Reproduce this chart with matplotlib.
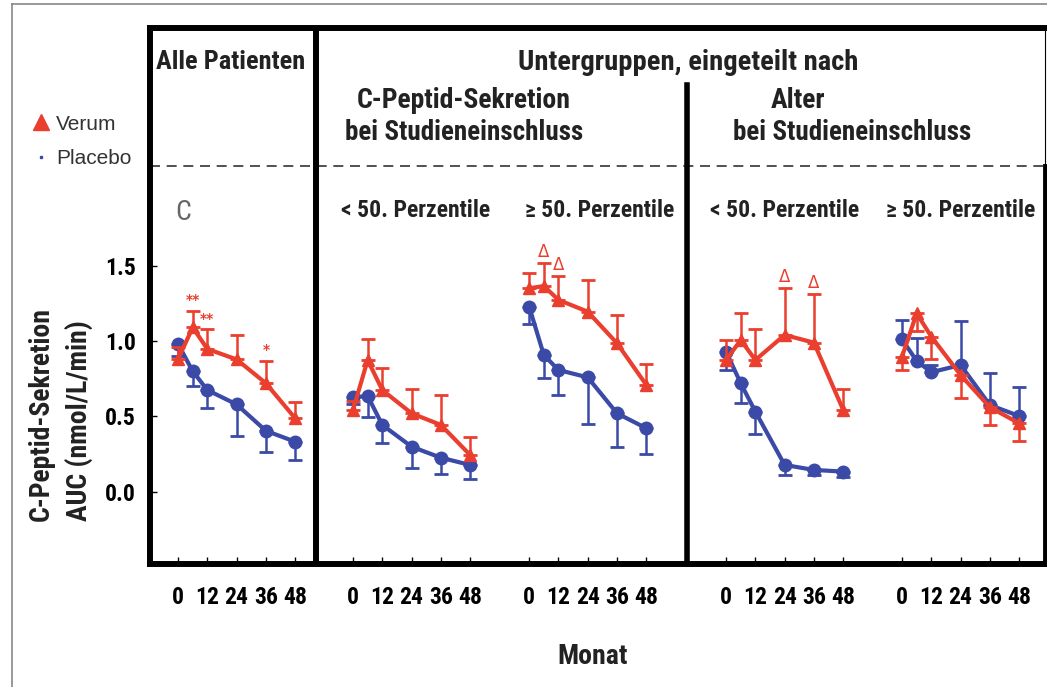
import os
import matplotlib
matplotlib.use("Agg")
import matplotlib.pyplot as plt
import numpy as np
from matplotlib.lines import Line2D
from matplotlib import font_manager as fm

# months at which C-peptide AUC was measured
months = [0, 6, 12, 24, 36, 48]
tick_months = [0, 12, 24, 36, 48]

# x offset (in months) of each sub-panel on the shared axis
panel_offsets = [0, 71.7, 143.9, 224.6, 296.7]
panel_titles = ["< 50. Perzentile", "≥ 50. Perzentile", "< 50. Perzentile", "≥ 50. Perzentile"]

# placebo (blue) means and error bars, one row per panel
placebo_mean = [
    [0.98, 0.80, 0.675, 0.58, 0.405, 0.333],
    [0.627, 0.636, 0.444, 0.30, 0.227, 0.179],
    [1.227, 0.907, 0.808, 0.759, 0.521, 0.422],
    [0.929, 0.72, 0.532, 0.179, 0.146, 0.135],
    [1.011, 0.868, 0.793, 0.841, 0.576, 0.503],
]
placebo_err_lo = [
    [0.08, 0.10, 0.12, 0.21, 0.14, 0.12],
    [0.045, 0.14, 0.12, 0.14, 0.11, 0.09],
    [0.115, 0.15, 0.165, 0.31, 0.22, 0.17],
    [0.12, 0.13, 0.15, 0.066, 0.035, 0.035],
    [0, 0, 0, 0, 0, 0],
]
placebo_err_hi = [
    [0, 0, 0, 0, 0, 0],
    [0, 0, 0, 0, 0, 0],
    [0, 0, 0, 0, 0, 0],
    [0, 0, 0, 0, 0, 0],
    [0.13, 0.15, 0.05, 0.29, 0.21, 0.19],
]

# verum (red) means and error bars
verum_mean = [
    [0.88, 1.09, 0.947, 0.878, 0.72, 0.488],
    [0.543, 0.874, 0.675, 0.521, 0.444, 0.245],
    [1.349, 1.364, 1.272, 1.194, 0.985, 0.709],
    [0.874, 1.007, 0.874, 1.04, 0.989, 0.543],
    [0.896, 1.183, 1.029, 0.775, 0.561, 0.455],
]
verum_err_lo = [
    [0, 0, 0, 0, 0, 0],
    [0, 0, 0, 0, 0, 0],
    [0, 0, 0, 0, 0, 0],
    [0, 0, 0, 0, 0, 0],
    [0.09, 0.115, 0.145, 0.15, 0.12, 0.12],
]
verum_err_hi = [
    [0.08, 0.11, 0.13, 0.16, 0.15, 0.11],
    [0.06, 0.14, 0.145, 0.16, 0.20, 0.12],
    [0.10, 0.15, 0.16, 0.21, 0.19, 0.14],
    [0.13, 0.18, 0.205, 0.31, 0.32, 0.14],
    [0, 0, 0, 0, 0, 0],
]

# significance markers: (panel, month index, symbol)
sig_marks = [(0, 1, "**"), (0, 2, "**"), (0, 4, "*"),
             (2, 1, "Δ"), (2, 2, "Δ"), (3, 3, "Δ"), (3, 4, "Δ")]

RED = "#EA3F2E"
BLUE = "#3A4AA6"
W, H = 1047, 687


def narrow_font(bold):
    """Look for an installed condensed/narrow sans font file."""
    prefs = ["liberation sans narrow", "arial narrow", "roboto condensed",
             "open sans condensed", "dejavu sans condensed", "noto sans condensed"]
    found = []
    for f in fm.fontManager.ttflist:
        key = (f.name + " " + os.path.basename(f.fname)).lower()
        if not ("narrow" in key or "condensed" in key or "cond" in os.path.basename(f.fname).lower()):
            continue
        if f.style != "normal" or "italic" in key or "oblique" in key:
            continue
        w = f.weight if isinstance(f.weight, int) else (700 if f.weight == "bold" else 400)
        if bold and w < 600:
            continue
        if not bold and (w >= 600 or w < 350):
            continue
        rank = next((i for i, p in enumerate(prefs) if p in key), len(prefs))
        found.append((rank, abs(w - (700 if bold else 400)), f.fname))
    if found:
        found.sort()
        return fm.FontProperties(fname=found[0][2]), 1.0
    return fm.FontProperties(family="Liberation Sans",
                             weight="bold" if bold else "normal"), 0.82


FB, SB = narrow_font(True)
FR, SR = narrow_font(False)

fig = plt.figure(figsize=(W / 100, H / 100), dpi=100)


def px(x, y):
    return x / W, 1 - y / H


def btext(x, y, s, size, **kw):
    fp = FB.copy()
    fp.set_size(size * SB)
    return fig.text(*px(x, y), s, fontproperties=fp, color="#222222",
                    ha="center", va="center", **kw)


# main axes: left spine at x=150px, right 1045px, top 28px, bottom 564px
l, b = px(150, 564)
r, t = px(1045, 28)
ax = fig.add_axes([l, b, r - l, t - b])
ax.set_xlim(-11.5, 355.3)
ax.set_ylim(-0.477, 3.073)

for p, off in enumerate(panel_offsets):
    x = np.array(months) + off
    ax.errorbar(x, placebo_mean[p], yerr=[placebo_err_lo[p], placebo_err_hi[p]],
                color=BLUE, lw=3, marker="o", ms=9, elinewidth=1.8,
                capsize=5, capthick=2, zorder=3)
    ax.errorbar(x, verum_mean[p], yerr=[verum_err_lo[p], verum_err_hi[p]],
                color=RED, lw=3, marker="^", ms=9, elinewidth=1.8,
                capsize=5, capthick=2, zorder=4)

for p, i, sym in sig_marks:
    xm = months[i] + panel_offsets[p]
    ym = verum_mean[p][i] + verum_err_hi[p][i] + 0.015
    if sym == "Δ":
        ax.text(xm, ym, sym, color=RED, ha="center", va="bottom", fontsize=12)
    else:
        ax.text(xm, ym + 0.01, sym, color=RED, ha="center", va="bottom",
                fontsize=10, fontweight="bold")

# frame
for s in ["left", "top", "bottom"]:
    ax.spines[s].set_linewidth(4.3)
ax.spines["right"].set_visible(False)
dash_y = 2.159
dash_frac = (dash_y + 0.477) / (3.073 + 0.477)
ax.plot([1, 1], [0, dash_frac], transform=ax.transAxes, color="black",
        lw=3.5, clip_on=False, solid_capstyle="projecting")
ax.plot([1, 1], [dash_frac, 1], transform=ax.transAxes, color="black",
        lw=0.8, clip_on=False)
ax.axhline(dash_y, color="#333333", lw=1.2, ls=(0, (6, 4)))
ax.axvline(56.6, color="black", lw=4.3)
ax.axvline(208.4, ymin=0, ymax=(564 - 85) / 536, color="black", lw=4)

# ticks
tick_fp = FB.copy()
tick_fp.set_size(17 * SB)
xt = [m + off for off in panel_offsets for m in tick_months]
ax.set_xticks(xt)
ax.set_xticklabels([str(m) for off in panel_offsets for m in tick_months],
                   fontproperties=tick_fp)
ax.tick_params(axis="x", direction="in", length=5, width=1, pad=16)
ax.set_yticks([0.0, 0.5, 1.0, 1.5])
ax.set_yticklabels(["0.0", "0.5", "1.0", "1.5"], fontproperties=tick_fp)
ax.tick_params(axis="y", direction="in", length=5, width=1, pad=10)

# headings
btext(231, 62, "Alle Patienten", 19)
btext(688, 62, "Untergruppen, eingeteilt nach", 20.5)
btext(464, 100, "C-Peptid-Sekretion", 20)
btext(464, 133, "bei Studieneinschluss", 19.5)
btext(798, 100, "Alter", 20)
btext(852, 133, "bei Studieneinschluss", 19.5)
for xc, title in zip([416, 600, 785, 961], panel_titles):
    btext(xc, 210, title, 17)
c_fp = FR.copy()
c_fp.set_size(20 * SR)
fig.text(*px(183, 212), "C", fontproperties=c_fp, color="#666666",
         ha="center", va="center")

btext(60, 414, "C-Peptid-Sekretion\nAUC (nmol/L/min)", 20, rotation=90,
      multialignment="left", linespacing=1.45)
btext(593, 657, "Monat", 20)

# legend
handles = [Line2D([], [], color=RED, marker="^", ls="none", ms=11),
           Line2D([], [], color=BLUE, marker="s", ls="none", ms=2)]
fig.legend(handles, ["Verum", "Placebo"], loc="upper left",
           bbox_to_anchor=px(10, 96), frameon=False,
           labelcolor="#333333", handletextpad=0.1, handlelength=1.2,
           labelspacing=0.75, prop={"family": "Liberation Sans", "size": 15})

# outer gray frame
fig.add_artist(Line2D([12 / W, 12 / W], [0, 1 - 4 / H], color="#888888", lw=1.2))
fig.add_artist(Line2D([12 / W, 1], [1 - 4 / H, 1 - 4 / H], color="#888888", lw=1.2))

fig.savefig("out.png", dpi=100)
